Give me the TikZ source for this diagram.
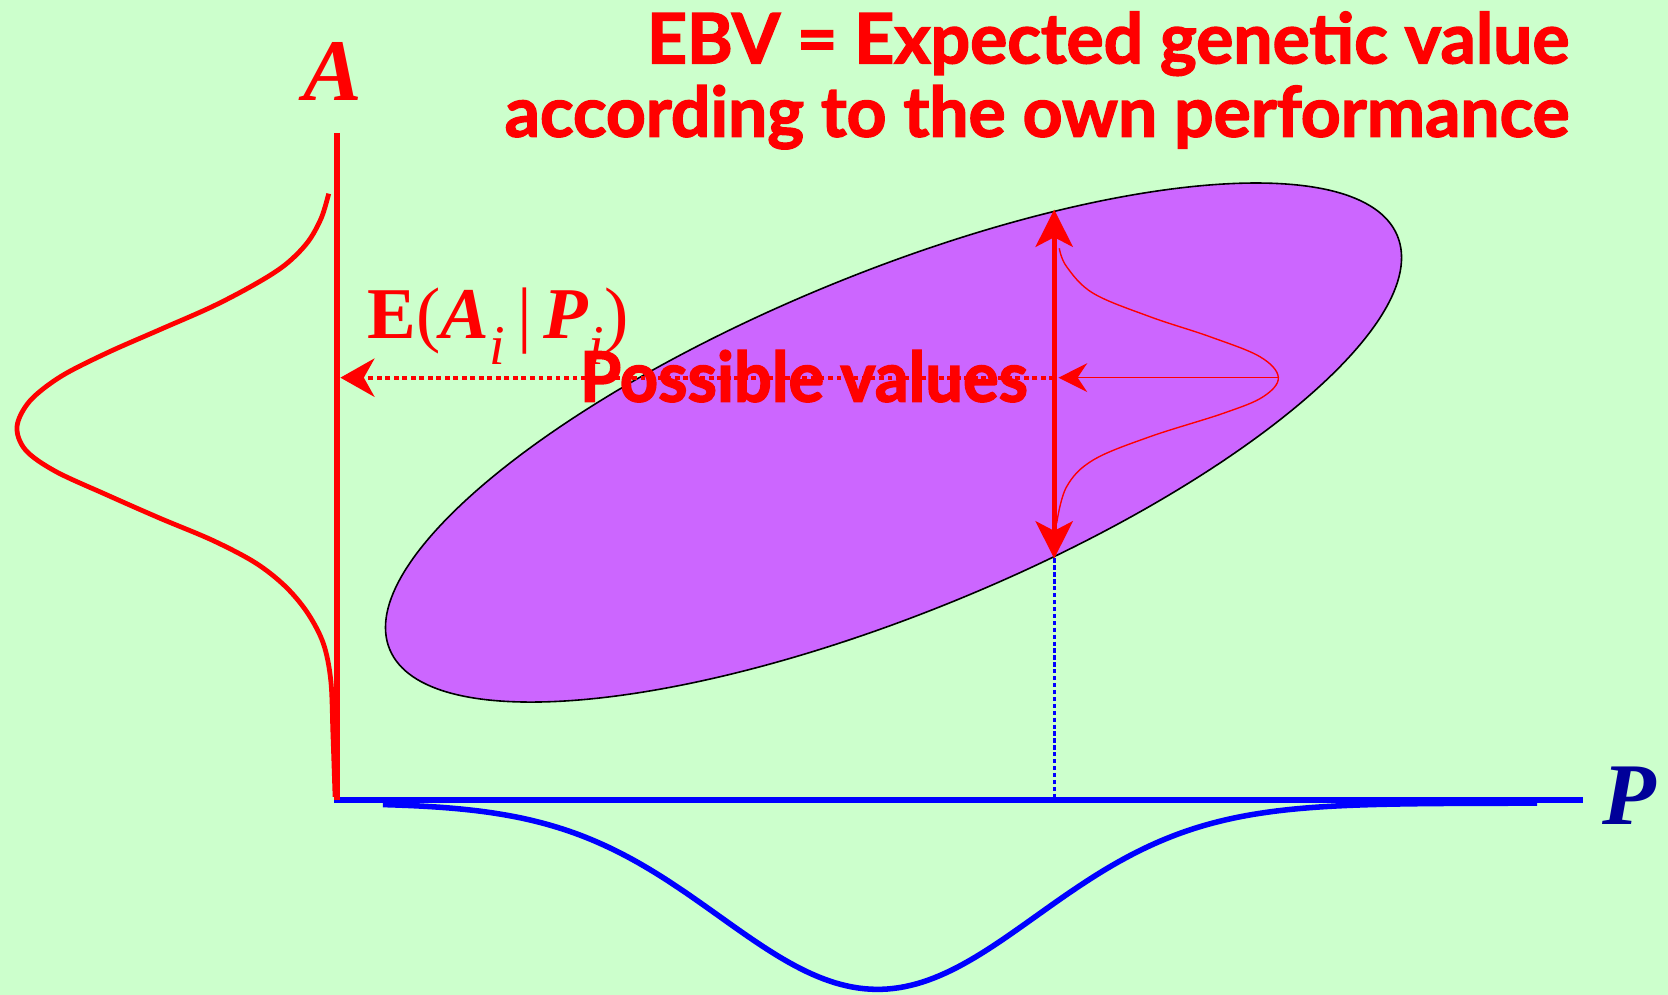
\documentclass[tikz,border=0pt]{standalone}
\usepackage{fontspec}
\usetikzlibrary{arrows.meta}
\newfontfamily\comicfont[FakeBold=2]{Lato}
\newfontfamily\comicnarrow[FakeBold=2,FakeStretch=0.96]{Lato}
\newfontfamily\timesfont{Liberation Serif}
\definecolor{bggreen}{RGB}{204,255,204}
\definecolor{ellpurple}{RGB}{204,102,255}
\definecolor{pblue}{RGB}{0,0,153}
\tikzset{
  comic/.style={text=red,inner sep=0pt,font=\comicfont\bfseries\fontsize{18.6pt}{20pt}\selectfont},
  comicn/.style={text=red,inner sep=0pt,font=\comicnarrow\bfseries\fontsize{18.6pt}{20pt}\selectfont},
  serifbig/.style={inner sep=0pt,font=\timesfont\bfseries\itshape\fontsize{23.5pt}{25pt}\selectfont},
}
\newcommand\subi{\raisebox{-0.36em}{\fontsize{15pt}{16pt}\selectfont\textit{i}}}
\begin{document}
\begin{tikzpicture}[x=0.01cm,y=-0.01cm]
\useasboundingbox (0,0) rectangle (1568,935);
\fill[bggreen] (0,0) rectangle (1568,935);

% coordinates
\coordinate (O) at (317,752);
\coordinate (Atop) at (317,125);
\coordinate (Pstart) at (314,752);
\coordinate (Pend) at (1488,752);
\coordinate (C) at (840,416);
\coordinate (up) at (991,197);
\coordinate (dn) at (991,525);
\coordinate (mid) at (991,355);
\coordinate (axhit) at (320,355);
\coordinate (peak) at (1202,355);
\coordinate (tipin) at (995,355);
\coordinate (foot) at (991,752);

% ellipse
\filldraw[fill=ellpurple,draw=black,line width=0.015cm,rotate around={22.3:(C)}] (C) ellipse [x radius=512, y radius=159.5];

% blue dotted vertical
\draw[blue,line width=0.025cm,dash pattern=on 0.04cm off 0.025cm] (dn) -- (foot);

% blue axis and curve
\draw[blue,line width=0.065cm] (Pstart) -- (Pend);
\draw[blue,line width=0.052cm] plot[domain=360:1445,samples=200] (\x,{755+175*exp(-0.5*((\x-825)/149)^2)});

% red axis
\draw[red,line width=0.06cm] (Atop) -- (O);

% left red gaussian
\draw[red,line width=0.045cm] plot[smooth,tension=0.55] coordinates {(309,182) (302,205) (289,228) (268,249) (240,267) (200,288) (150,310) (100,332) (57,354) (28,377) (16,401) (24,423) (52,443) (100,465) (150,487) (200,508) (240,529) (268,551) (289,576) (304,605) (311,640) (313,690) (315,749)};

% dotted red arrow to axis
\draw[red,line width=0.038cm,dash pattern=on 0.045cm off 0.035cm,-{Stealth[length=0.32cm,width=0.36cm,inset=0.1cm]}] (mid) -- (axhit);

% thin gaussian inside ellipse
\draw[red,line width=0.013cm] plot[smooth,tension=0.6] coordinates {(995.8,233.4) (1002.7,250.7) (1027.7,275.7) (1081,297.7) (1137.4,316.5) (1184.4,335.3) (1201.7,354.7) (1187.5,372.9) (1150,388.5) (1081,410.5) (1027.7,432.4) (1002.7,457.5) (993.3,491.9)};
\draw[red,line width=0.013cm,-{Stealth[length=0.27cm,width=0.27cm,inset=0.09cm]}] (peak) -- (tipin);

% vertical double arrow
\draw[red,line width=0.045cm,{Stealth[length=0.35cm,width=0.35cm,inset=0.09cm]}-{Stealth[length=0.35cm,width=0.35cm,inset=0.09cm]}] (dn) -- (up);

% texts
\node[comic,anchor=base east] (t1) at (1476,59.5) {EBV = Expected genetic value};
\node[comic,anchor=base east] (t2) at (1476,128.5) {according to the own performance};
\node[comicn,anchor=base west] (pv) at (544.5,377.6) {Possible values};
\node[serifbig,text=red,anchor=base] (A) at (313,94) {A};
\node[serifbig,text=pblue,anchor=base] (P) at (1532,775.5) {P};
\node[inner sep=0pt,anchor=base west,text=red,font=\timesfont\fontsize{19.5pt}{21pt}\selectfont] (E) at (345,318)
  {\textbf{E}(\textbf{\textit{A}}\subi\,|\,\textbf{\textit{P}}\subi)};
\end{tikzpicture}
\end{document}
